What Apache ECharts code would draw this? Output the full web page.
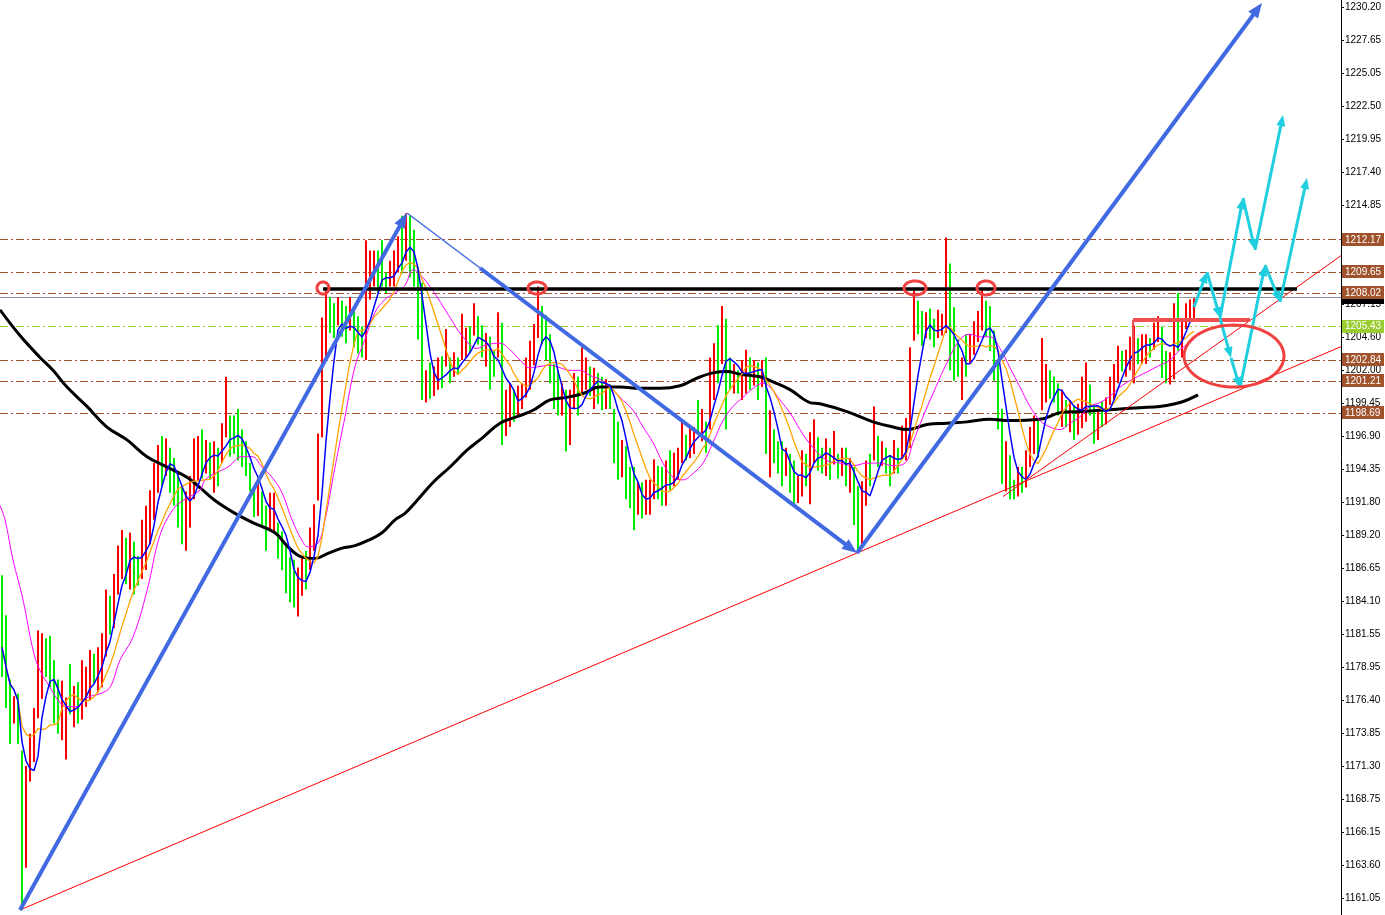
<!DOCTYPE html>
<html><head><meta charset="utf-8">
<script src="https://cdn.jsdelivr.net/npm/echarts@6/dist/echarts.min.js"></script>
<style>html,body{margin:0;padding:0;background:#fff}#c{width:1385px;height:915px}</style>
</head><body><div id="c"></div><script>
// ---------- price bars (bar index 0..298) ----------
const firstOpen = 1184.0;
const barClose = [
1180.5,1177.5,1175.0,1175.8,1173.0,1164.5,1170.2,1172.0,1175.0,1178.5,
1179.6,1178.4,1177.8,1175.8,1174.8,1175.5,1176.0,1175.5,1176.4,1175.8,
1177.5,1178.0,1178.8,1178.2,1179.0,1181.0,1183.5,1183.0,1185.5,1186.5,
1188.0,1187.6,1188.6,1186.8,1186.0,1188.5,1190.0,1191.5,1193.8,1195.0,
1194.6,1195.5,1194.8,1193.0,1191.2,1190.5,1191.6,1193.0,1194.8,1195.3,
1195.0,1196.0,1195.0,1195.8,1195.0,1196.9,1198.0,1197.4,1196.5,1196.0,
1195.5,1194.8,1193.5,1192.0,1192.8,1191.0,1189.8,1191.0,1191.5,1189.0,
1188.0,1186.5,1185.0,1184.3,1185.8,1186.8,1186.2,1188.5,1190.5,1194.0,
1203.0,1206.5,1205.2,1205.0,1206.0,1205.3,1204.8,1206.0,1204.6,1204.0,
1203.5,1207.5,1209.5,1210.2,1209.0,1208.8,1208.4,1209.5,1210.8,1212.0,
1211.0,1212.5,1211.5,1209.0,1205.5,1200.5,1201.5,1200.2,1201.6,1202.3,
1201.5,1202.6,1201.9,1202.6,1202.0,1203.8,1204.5,1204.0,1205.5,1205.0,
1203.0,1203.5,1202.0,1201.8,1203.8,1199.5,1199.8,1200.0,1199.0,1199.8,
1200.4,1201.5,1203.0,1204.5,1206.5,1205.5,1203.5,1201.5,1200.0,1199.2,
1199.6,1198.0,1198.6,1199.8,1199.3,1201.0,1201.4,1201.0,1201.5,1200.9,
1200.5,1201.0,1200.2,1197.5,1195.5,1196.3,1194.0,1192.5,1191.5,1192.4,
1191.4,1192.3,1192.8,1193.7,1193.0,1192.5,1193.5,1193.0,1194.5,1195.5,
1196.8,1196.0,1196.8,1197.2,1197.15,1198.2,1197.5,1200.5,1203.0,1202.5,
1204.5,1203.0,1201.5,1201.8,1201.0,1202.0,1202.5,1201.8,1202.2,1201.5,
1202.3,1196.0,1197.5,1196.5,1195.0,1194.5,1195.0,1193.5,1192.8,1193.5,
1194.5,1194.0,1195.5,1196.5,1195.5,1195.0,1195.6,1194.5,1195.4,1194.4,
1195.0,1194.3,1194.9,1192.0,1190.5,1191.5,1193.8,1193.5,1196.5,1195.5,
1195.8,1194.8,1194.3,1195.5,1195.0,1196.3,1197.2,1202.5,1206.5,1205.5,
1205.0,1205.6,1205.0,1204.5,1205.2,1205.7,1207.0,1203.5,1202.5,1202.0,
1202.6,1202.0,1203.5,1204.5,1205.5,1206.2,1205.8,1204.5,1202.0,1199.0,
1195.0,1195.5,1193.8,1193.0,1193.4,1193.0,1194.5,1195.8,1197.0,1196.5,
1200.5,1201.5,1201.0,1200.2,1199.5,1200.0,1199.0,1199.5,1198.0,1198.5,
1199.5,1200.5,1199.5,1198.2,1198.6,1198.4,1199.2,1200.5,1201.8,1203.0,
1202.5,1203.2,1203.8,1204.2,1203.5,1204.0,1204.3,1203.8,1205.0,1205.5,
1203.5,1202.5,1202.9,1205.5,1204.5,1205.8,1206.2,1206.8,1207.0
];
const barHigh = [
1186.1,1183.0,1178.0,1176.7,1176.9,1172.5,1171.3,1173.8,1175.8,1181.8,
1181.6,1181.2,1181.4,1179.5,1178.0,1177.9,1176.6,1179.2,1177.5,1177.8,
1179.5,1179.0,1180.3,1180.0,1180.5,1181.6,1185.0,1184.5,1186.2,1188.4,
1189.6,1189.0,1189.4,1188.7,1187.6,1190.4,1191.5,1192.7,1194.8,1196.2,
1196.9,1196.7,1196.0,1195.2,1194.0,1193.0,1192.6,1193.8,1196.7,1196.9,
1197.4,1196.6,1196.4,1196.5,1196.0,1197.9,1201.5,1198.5,1198.5,1199.0,
1197.4,1196.5,1194.8,1193.0,1193.2,1192.6,1191.5,1192.5,1192.5,1190.2,
1189.5,1188.6,1187.5,1187.3,1186.7,1187.5,1188.0,1189.8,1191.6,1197.1,
1206.1,1208.2,1207.7,1207.2,1207.7,1207.4,1207.0,1207.7,1207.0,1206.2,
1205.4,1212.1,1211.3,1211.3,1211.3,1212.1,1209.6,1210.5,1211.3,1212.4,
1214.0,1214.2,1214.0,1212.9,1210.0,1208.8,1202.0,1202.6,1202.3,1203.0,
1203.1,1205.2,1203.0,1203.4,1203.0,1206.4,1205.3,1205.4,1207.2,1206.2,
1205.5,1204.9,1204.6,1203.5,1206.5,1205.7,1200.5,1201.0,1200.5,1200.8,
1201.0,1203.0,1204.3,1205.6,1208.5,1207.0,1206.3,1204.8,1202.5,1202.0,
1201.0,1200.5,1200.5,1201.8,1201.5,1203.8,1203.0,1202.3,1202.2,1201.8,
1201.5,1201.3,1200.9,1199.0,1198.0,1196.6,1196.1,1194.5,1194.5,1193.3,
1193.3,1193.5,1193.5,1195.1,1194.6,1194.5,1195.0,1195.8,1195.6,1196.0,
1198.1,1197.0,1197.6,1197.6,1199.7,1199.0,1198.0,1203.0,1204.1,1205.5,
1207.0,1206.0,1203.0,1202.5,1202.0,1202.8,1203.6,1203.0,1202.8,1202.6,
1202.8,1203.0,1198.9,1197.4,1196.5,1196.5,1196.0,1195.5,1195.0,1193.8,
1195.8,1195.5,1197.2,1198.2,1196.8,1196.0,1196.7,1196.0,1197.3,1195.5,
1196.0,1196.0,1195.2,1194.5,1193.0,1193.4,1195.0,1195.5,1199.2,1196.9,
1196.5,1196.0,1195.4,1196.6,1196.0,1197.7,1198.3,1203.8,1208.2,1207.4,
1206.6,1206.5,1206.8,1206.0,1206.7,1206.4,1212.3,1210.3,1206.9,1204.4,
1203.0,1204.8,1204.8,1205.8,1206.6,1208.2,1207.4,1207.0,1205.1,1202.5,
1199.0,1196.5,1195.4,1193.5,1194.5,1194.5,1195.8,1197.6,1198.5,1198.2,
1204.5,1202.5,1202.0,1201.5,1201.0,1200.5,1199.7,1199.7,1199.3,1199.4,
1201.5,1202.6,1200.9,1199.2,1199.0,1199.6,1199.9,1201.5,1202.5,1203.9,
1203.5,1203.6,1204.6,1205.5,1204.5,1204.8,1204.8,1204.5,1205.7,1206.2,
1205.4,1203.5,1203.4,1207.2,1208.0,1206.0,1207.2,1207.5,1207.6
];
const barLow = [
1178.2,1175.8,1173.0,1174.6,1173.0,1160.1,1163.4,1170.1,1171.6,1175.0,
1176.5,1178.2,1177.4,1174.6,1173.8,1173.3,1171.8,1175.3,1174.3,1174.6,
1174.9,1175.9,1176.4,1177.7,1177.0,1177.4,1179.8,1181.5,1182.0,1184.6,
1185.8,1185.4,1185.0,1184.6,1185.3,1185.8,1186.5,1188.5,1190.4,1192.5,
1193.0,1193.8,1192.5,1191.5,1189.8,1188.5,1188.0,1189.8,1192.0,1193.4,
1193.6,1194.0,1193.5,1192.5,1193.0,1194.8,1196.8,1195.3,1195.5,1195.0,
1194.5,1193.8,1192.6,1190.6,1190.7,1189.8,1188.0,1189.5,1189.5,1187.4,
1186.5,1184.7,1184.0,1183.6,1182.9,1184.5,1185.0,1186.5,1188.0,1191.9,
1196.8,1202.8,1204.9,1204.5,1205.5,1204.6,1204.1,1205.1,1203.8,1203.3,
1203.0,1202.8,1207.5,1208.5,1208.0,1208.5,1208.0,1208.5,1208.5,1209.6,
1209.5,1210.5,1209.2,1208.5,1204.4,1199.7,1199.5,1199.8,1200.0,1200.5,
1200.6,1202.3,1201.0,1201.5,1201.7,1202.8,1203.0,1203.4,1204.7,1204.0,
1203.0,1202.3,1200.5,1201.5,1203.0,1196.2,1196.9,1197.6,1198.0,1198.5,
1199.0,1199.9,1200.5,1202.4,1204.5,1204.0,1202.8,1201.0,1199.0,1198.5,
1198.5,1195.7,1196.2,1199.0,1198.5,1200.3,1200.5,1200.0,1199.0,1199.4,
1198.9,1199.0,1199.0,1194.8,1193.5,1193.7,1192.0,1191.3,1189.6,1190.8,
1190.5,1190.8,1190.8,1192.0,1192.0,1191.5,1191.5,1192.7,1193.0,1193.5,
1194.8,1195.0,1195.2,1195.5,1197.1,1196.5,1195.6,1197.4,1199.7,1201.0,
1202.5,1197.4,1200.5,1200.2,1200.2,1199.7,1200.2,1200.5,1200.8,1199.7,
1200.7,1195.5,1193.7,1194.8,1194.0,1193.0,1193.8,1192.5,1191.5,1191.7,
1192.2,1193.0,1191.6,1194.8,1194.2,1194.0,1193.8,1193.5,1194.7,1193.6,
1193.8,1193.0,1192.5,1190.0,1187.9,1188.5,1191.5,1193.0,1195.0,1194.5,
1194.6,1194.0,1193.0,1194.0,1194.0,1195.2,1195.0,1196.0,1204.3,1204.8,
1203.9,1204.5,1204.4,1203.8,1204.5,1204.7,1204.9,1202.0,1201.2,1201.5,
1199.7,1201.5,1202.5,1203.2,1204.2,1205.1,1204.6,1203.5,1201.2,1197.4,
1193.2,1192.6,1192.0,1192.0,1192.2,1192.5,1192.9,1194.5,1195.5,1195.2,
1198.9,1199.5,1199.8,1199.5,1198.5,1197.6,1197.6,1197.2,1196.6,1197.0,
1197.5,1198.0,1198.5,1196.3,1196.6,1197.6,1197.8,1199.3,1199.7,1201.0,
1201.9,1201.5,1202.0,1201.0,1202.5,1202.5,1202.5,1203.0,1203.6,1204.2,
1201.4,1201.0,1200.9,1201.3,1203.5,1203.0,1205.2,1205.8,1206.0
];

// ---------- slow moving averages: [bar index, price] ----------
const magentaMA = [
[-0.5,1191.5],[0.75,1190.4],[2.75,1187.3],[5.25,1184.2],[7.75,1180.3],[9.5,1178.7],[12,1177.4],[14.5,1176.2],
[16.25,1175.9],[18.75,1175.9],[21.25,1176.6],[24.5,1176.9],[27,1177.4],[29.5,1179.5],[32.75,1181.3],[36.25,1184.9],
[39.5,1189.2],[42.75,1191.2],[45.25,1191.9],[49.5,1192.7],[50.75,1193.5],[53.25,1194.0],[56.5,1194.5],[60,1195.3],
[62.5,1195.3],[65,1194.5],[67.5,1193.7],[70,1192.5],[72.5,1190.4],[75,1188.8],[76.5,1188.3],[79,1188.6],
[80.75,1190.4],[83.25,1194.5],[85.75,1198.4],[88.25,1202.3],[90.75,1204.4],[93.25,1206.5],[95.75,1207.5],[98.25,1208.0],
[100.75,1208.6],[102.75,1209.8],[105.25,1209.2],[108.75,1207.7],[112,1206.1],[115.25,1204.6],[118.75,1203.7],[121.25,1204.0],
[124.5,1204.1],[127,1203.6],[129.5,1202.8],[132,1202.2],[134.5,1202.3],[137,1202.4],[139.5,1202.2],[142,1202.0],
[144.5,1202.0],[147,1201.6],[149.5,1201.3],[151.25,1200.9],[154.5,1199.9],[157.75,1198.9],[160.25,1197.6],[162.75,1196.4],
[165.25,1194.8],[167.75,1193.7],[170.25,1193.5],[172.75,1194.0],[175.25,1194.8],[177.75,1196.4],[180.25,1198.1],[182.75,1199.2],
[185.25,1199.9],[187.75,1200.6],[190.25,1201.0],[192,1200.7],[194.5,1199.7],[197,1198.7],[199.5,1197.4],[202.75,1196.0],
[206.25,1195.0],[209.5,1194.8],[212.75,1194.6],[216.25,1194.8],[219.5,1194.8],[222.75,1194.6],[225.75,1194.8],[227.75,1196.4],
[230.25,1198.4],[232.75,1200.2],[236.25,1202.6],[239.5,1204.4],[242,1204.8],[244.5,1204.6],[247,1204.6],[249.5,1203.7],
[252,1202.2],[254.5,1200.7],[257,1199.2],[259.5,1198.1],[262,1197.6],[264.5,1197.4],[267,1197.9],[269.5,1198.4],
[272,1199.2],[274.5,1199.5],[277,1200.0],[279.5,1200.7],[282,1201.2],[284.5,1201.6],[287,1202.0],[289.5,1202.4],
[292,1202.8],[294.5,1203.6],[298,1204.4]
];
const blackMA = [
[-0.5,1206.7],[4.5,1204.7],[9.5,1203.0],[12.75,1202.0],[16.25,1200.7],[21.25,1199.2],[26.25,1197.6],[31.25,1196.6],
[36.25,1195.3],[41.25,1194.5],[46.25,1193.7],[49.5,1192.9],[53.25,1191.9],[58.25,1190.9],[63.25,1190.1],[68.25,1189.4],
[71.5,1188.3],[75,1187.5],[78.25,1187.4],[81.5,1187.8],[85,1188.2],[88.25,1188.4],[91.5,1188.8],[95,1189.4],
[98.25,1190.4],[100.75,1190.9],[103.75,1191.9],[107.75,1193.3],[112,1194.5],[116.25,1195.8],[120.25,1196.8],[124.5,1197.9],
[128.75,1198.4],[132.75,1198.9],[137,1199.7],[141.25,1199.9],[145.25,1200.2],[149.5,1200.7],[154.5,1200.7],[159.5,1200.6],
[164.5,1200.6],[169.5,1200.8],[173.75,1201.4],[177.75,1201.8],[181.25,1201.9],[184.5,1201.7],[189.5,1201.5],[192.75,1201.1],
[197,1200.5],[202,1199.5],[204.5,1199.4],[211.25,1198.8],[217.75,1198.0],[222.75,1197.6],[226.25,1197.4],[231.25,1197.8],
[236.25,1197.9],[241.25,1198.0],[247,1198.2],[252,1198.1],[259.5,1198.2],[264.5,1198.7],[269.5,1198.8],[274.5,1198.9],
[279.5,1199.0],[284.5,1199.1],[289.5,1199.2],[294.5,1199.5],[299,1200.1]
];

// ---------- axis ticks and price levels ----------
const tickValues = [1161.05,1163.60,1166.15,1168.75,1171.30,1173.85,1176.40,1178.95,1181.55,1184.10,1186.65,1189.20,1191.80,1194.35,1196.90,1199.45,1202.00,1204.60,1207.15,1209.70,1212.30,1214.85,1217.40,1219.95,1222.50,1225.05,1227.65,1230.20];
const hiddenTickLabels = [1209.70, 1212.30];
const brownLevels = [1212.17, 1209.65, 1208.02, 1202.84, 1201.21, 1198.69];
const greenLevels = [1205.43];
const bidLevel = [1207.69];

// ---------- drawn annotations in [bar index, price] ----------
const blueArrowSegs = [[4.5,1160.12,101.25,1214.21],[119.5,1209.94,213.75,1187.82],[213.75,1187.82,315,1230.51]];
const blueThinSegs = [[101.25,1214.21,119.5,1209.94]];
const redTrendSegs = [[4.5,1160.12,334.75,1203.84],[250.25,1192.2,334.75,1210.9]];
const resistanceSegs = [[80.25,1208.31,323.75,1208.31]];
const redBoxTop = [[282.75,1205.9,312,1205.9]];
const redBoxSide = [[282.75,1201.25,282.75,1205.9]];
const cyanSegs = [
[298,1206.91,301.25,1209.63],[301.25,1209.63,304.5,1206.06],[304.5,1206.06,310.25,1215.37],
[310.25,1215.37,313.25,1211.34],[313.25,1211.34,320.25,1221.81],[304.5,1206.06,307.25,1202.96],
[307.25,1202.96,309.5,1200.63],[309.5,1200.63,315.75,1210.17],[315.75,1210.17,319.5,1207.30],
[319.5,1207.30,326.25,1216.93]
];
const topCircles = [[80.25,1208.39],[133.75,1208.39],[228.25,1208.39],[246,1208.39]];
const zoneEllipse = [[308,1203.11]];

// ---------- build ----------
const barData = barClose.map((c, i) => [i, i === 0 ? firstOpen : barClose[i - 1], c, barLow[i], barHigh[i]]);
function sma(values, n) {
  return values.map((_, i) => {
    const s = Math.max(0, i - n + 1); let sum = 0;
    for (let k = s; k <= i; k++) sum += values[k];
    return [i, sum / (i - s + 1)];
  });
}
const RED = '#ff0000', GREEN = '#00ee00';
const FONT = '"Liberation Sans", Arial, sans-serif';

function segSeries(data, color, width, head, z) {
  return {
    type: 'custom', data, z, silent: true, clip: false,
    encode: { x: [0, 2], y: [1, 3] },
    renderItem(params, api) {
      const a = api.coord([api.value(0), api.value(1)]);
      const b = api.coord([api.value(2), api.value(3)]);
      const ch = [];
      let end = b;
      if (head) {
        const dx = b[0] - a[0], dy = b[1] - a[1], L = Math.hypot(dx, dy) || 1, ux = dx / L, uy = dy / L;
        const bx = b[0] - ux * head[0], by = b[1] - uy * head[0];
        end = [bx + ux * 1, by + uy * 1];
        ch.push({ type: 'polygon', shape: { points: [[b[0], b[1]], [bx - uy * head[1] / 2, by + ux * head[1] / 2], [bx + uy * head[1] / 2, by - ux * head[1] / 2]] }, style: { fill: color } });
      }
      ch.unshift({ type: 'line', shape: { x1: a[0], y1: a[1], x2: end[0], y2: end[1] }, style: { stroke: color, lineWidth: width, lineCap: 'butt' } });
      return { type: 'group', children: ch };
    }
  };
}
function levelLineSeries(values, color, dash, z) {
  return {
    type: 'custom', data: values.map(v => [v]), z, silent: true,
    encode: { y: 0 },
    renderItem(params, api) {
      const cs = params.coordSys;
      const y = Math.round(api.coord([0, api.value(0)])[1]) + 0.5;
      return { type: 'line', shape: { x1: cs.x, y1: y, x2: cs.x + cs.width, y2: y }, style: { stroke: color, lineWidth: 1, lineDash: dash } };
    }
  };
}
function levelLabelSeries(values, bg, h, showText) {
  return {
    type: 'custom', data: values.map(v => [v]), z: 10, silent: true, clip: false,
    encode: { y: 0 },
    renderItem(params, api) {
      const cs = params.coordSys;
      const v = api.value(0);
      const y = api.coord([0, v])[1];
      const xr = cs.x + cs.width;
      const ch = [{ type: 'rect', shape: { x: xr + 1, y: Math.round(y - h / 2), width: 42, height: h }, style: { fill: bg } }];
      if (showText) ch.push({ type: 'text', style: { text: v.toFixed(2), x: xr + 4, y: y + 0.5, fill: '#fff', font: '10px ' + FONT, verticalAlign: 'middle', align: 'left' } });
      return { type: 'group', children: ch };
    }
  };
}
const circleRadii = [[6, 6], [9, 6], [11, 7], [9, 7]];
function ellipsePts(cx, cy, rx, ry) {
  const pts = [];
  for (let k = 0; k < 72; k++) { const t = k / 72 * Math.PI * 2; pts.push([cx + rx * Math.cos(t), cy + ry * Math.sin(t)]); }
  return pts;
}

const option = {
  animation: false,
  backgroundColor: '#ffffff',
  grid: { left: 0, right: 44, top: 0, bottom: 0 },
  xAxis: { type: 'value', min: -0.5, max: 334.75, show: false },
  yAxis: {
    type: 'value', position: 'right', min: 1159.73, max: 1230.74, scale: true,
    splitLine: { show: false },
    axisLine: { show: true, onZero: false, lineStyle: { color: '#000', width: 1 } },
    axisTick: { show: true, length: 3, lineStyle: { color: '#000' }, customValues: tickValues },
    axisLabel: { customValues: tickValues.filter(v => hiddenTickLabels.indexOf(v) < 0), formatter: v => v.toFixed(2), color: '#000', fontSize: 10, fontFamily: FONT, margin: 4 }
  },
  series: [
    levelLineSeries(brownLevels, '#a0522d', [8, 3, 2, 3], 1),
    levelLineSeries(greenLevels, '#9acd32', [8, 3, 2, 3], 1),
    levelLineSeries(bidLevel, '#8a96a3', null, 1),
    {
      type: 'custom', data: barData, z: 2, silent: true,
      encode: { x: 0, y: [3, 4] },
      renderItem(params, api) {
        const i = api.value(0), o = api.value(1), c = api.value(2), l = api.value(3), h = api.value(4);
        const t = api.coord([i, h]), b = api.coord([i, l]);
        return { type: 'rect', shape: { x: Math.round(t[0]) - 1, y: t[1], width: 2, height: Math.max(1, b[1] - t[1]) }, style: { fill: c >= o ? RED : GREEN } };
      }
    },
    { type: 'line', data: blackMA, smooth: 0.4, showSymbol: false, symbol: 'none', z: 4, lineStyle: { color: '#000', width: 3 } },
    { type: 'line', data: magentaMA, smooth: 0.4, showSymbol: false, symbol: 'none', z: 4, lineStyle: { color: '#ff00ff', width: 1 } },
    { type: 'line', data: sma(barClose, 10), showSymbol: false, symbol: 'none', z: 4, lineStyle: { color: '#ffa500', width: 1.3 } },
    { type: 'line', data: sma(barClose, 5), showSymbol: false, symbol: 'none', z: 5, lineStyle: { color: '#0000ff', width: 1.5 } },
    segSeries(redTrendSegs, '#ff0000', 1, null, 6),
    segSeries(resistanceSegs, '#000000', 3.5, null, 6),
    segSeries(redBoxTop, '#f25050', 4, null, 6),
    segSeries(redBoxSide, '#f25050', 2, null, 6),
    segSeries(blueThinSegs, '#4169e1', 1.5, null, 7),
    segSeries(blueArrowSegs, '#4169e1', 4, [15, 12], 7),
    segSeries(cyanSegs, '#20cfdf', 3, [11, 9], 8),
    {
      type: 'custom', data: topCircles, z: 8, silent: true, clip: false,
      encode: { x: 0, y: 1 },
      renderItem(params, api) {
        const c = api.coord([api.value(0), api.value(1)]);
        const r = circleRadii[params.dataIndex];
        return { type: 'polygon', shape: { points: ellipsePts(c[0], c[1], r[0], r[1]) }, style: { fill: 'none', stroke: '#f04040', lineWidth: 3 } };
      }
    },
    {
      type: 'custom', data: zoneEllipse, z: 8, silent: true, clip: false,
      encode: { x: 0, y: 1 },
      renderItem(params, api) {
        const c = api.coord([api.value(0), api.value(1)]);
        return { type: 'polygon', shape: { points: ellipsePts(c[0], c[1], 50, 31) }, style: { fill: 'none', stroke: '#f04040', lineWidth: 3 } };
      }
    },
    levelLabelSeries(bidLevel, '#000000', 13, false),
    levelLabelSeries(brownLevels, '#a0522d', 13, true),
    levelLabelSeries(greenLevels, '#9acd32', 13, true)
  ]
};
const chart = echarts.init(document.getElementById('c'), null, { renderer: 'canvas' });
chart.setOption(option);
</script></body></html>
